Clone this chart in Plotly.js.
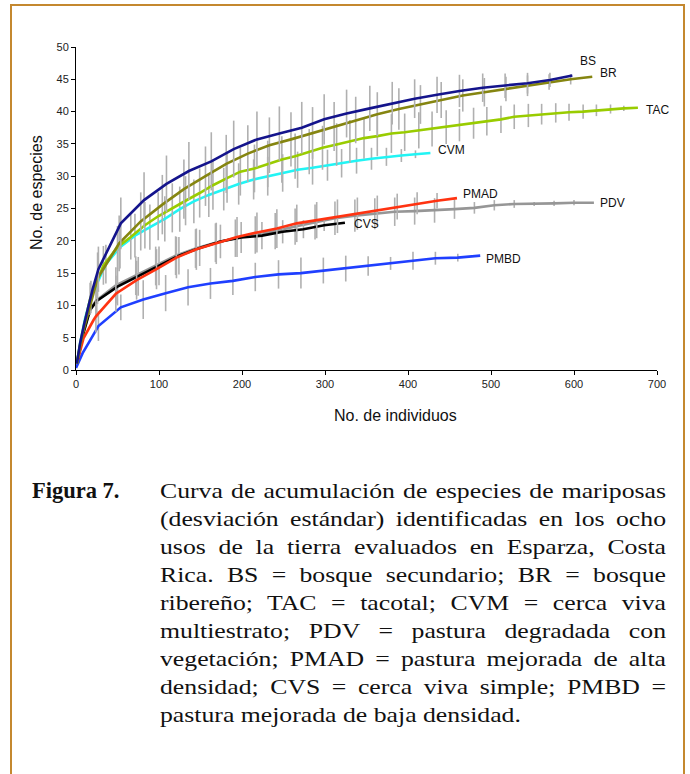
<!DOCTYPE html>
<html>
<head>
<meta charset="utf-8">
<script src="https://cdn.plot.ly/plotly-3.0.1.min.js"></script>
<style>
  html, body { margin: 0; padding: 0; background: #fff; }
  body { width: 690px; height: 774px; position: relative; overflow: hidden; }
  #frame { position: absolute; left: 10px; top: 4px; width: 671px; height: 800px; border: 2px solid #c4882f; }
  #chart { position: absolute; left: 0; top: 0; width: 690px; height: 450px; }
  #figlabel { position: absolute; left: 32px; top: 477px; font-family: 'Liberation Serif', 'Times New Roman', serif; font-weight: bold; font-size: 22.5px; line-height: 28px; color: #111; white-space: nowrap; }
  #cap { position: absolute; left: 160px; top: 477px; width: 432.5px; transform: scaleX(1.17); transform-origin: 0 0; font-family: 'Liberation Serif', 'Times New Roman', serif; font-size: 22px; line-height: 28px; color: #111; }
  #cap .j { text-align: justify; text-align-last: justify; }
  #cap .l { text-align: left; }
</style>
</head>
<body>
<div id="frame"></div>
<div id="chart"></div>
<div id="figlabel">Figura 7.</div>
<div id="cap">
  <div class="j">Curva de acumulación de especies de mariposas</div>
  <div class="j">(desviación estándar) identificadas en los ocho</div>
  <div class="j">usos de la tierra evaluados en Esparza, Costa</div>
  <div class="j">Rica. BS = bosque secundario; BR = bosque</div>
  <div class="j">ribereño; TAC = tacotal; CVM = cerca viva</div>
  <div class="j">multiestrato; PDV = pastura degradada con</div>
  <div class="j">vegetación; PMAD = pastura mejorada de alta</div>
  <div class="j">densidad; CVS = cerca viva simple; PMBD =</div>
  <div class="l">pastura mejorada de baja densidad.</div>
</div>
<script>
// ---- Data ----
const seriesNames = ['BS', 'BR', 'TAC', 'CVM', 'PDV', 'PMAD', 'CVS', 'PMBD'];

const bsX  = [1, 5, 10, 15, 20, 27, 54, 82, 109, 136, 163, 190, 218, 245, 272, 299, 326, 354, 381, 408, 435, 462, 490, 517, 544, 571, 598];
const bsY  = [1, 4.2, 7.2, 9.8, 12.5, 15.6, 22.7, 26.3, 28.8, 30.8, 32.3, 34.2, 35.7, 36.6, 37.5, 38.8, 39.7, 40.5, 41.3, 42.0, 42.6, 43.2, 43.7, 44.0, 44.4, 44.9, 45.6];
const bsSD = [0, 0, 0, 0, 0, 3.5, 4.0, 4.3, 4.4, 4.5, 4.5, 4.4, 4.3, 4.2, 4.0, 3.9, 3.7, 3.5, 3.3, 3.0, 2.8, 2.5, 2.2, 1.9, 1.6, 1.1, 0];

const brX  = [1, 5, 10, 15, 20, 26, 52, 78, 104, 130, 156, 181, 207, 233, 259, 285, 311, 337, 363, 389, 415, 440, 466, 492, 518, 544, 570, 596, 622];
const brY  = [1, 3.8, 6.6, 9.0, 11.3, 14.2, 19.6, 23.0, 25.6, 28.0, 30.0, 31.9, 33.5, 34.8, 35.7, 36.7, 37.7, 38.7, 39.6, 40.4, 41.1, 41.8, 42.5, 43.0, 43.5, 44.0, 44.6, 45.0, 45.4];
const brSD = [0, 0, 0, 0, 0, 4.0, 4.3, 4.5, 4.6, 4.6, 4.6, 4.5, 4.4, 4.3, 4.2, 4.0, 3.8, 3.6, 3.4, 3.2, 3.0, 2.8, 2.5, 2.2, 1.9, 1.6, 1.2, 0.8, 0];

const tacX  = [1, 5, 10, 17, 33, 50, 66, 83, 99, 116, 132, 149, 165, 182, 198, 215, 231, 248, 264, 281, 297, 314, 330, 347, 363, 380, 396, 413, 429, 446, 462, 479, 495, 512, 528, 545, 561, 578, 594, 611, 627, 644, 660, 677];
const tacY  = [1, 4.0, 7.0, 11.0, 16.2, 19.0, 20.6, 22.4, 23.8, 25.1, 26.2, 27.4, 28.6, 29.7, 30.7, 31.2, 31.9, 32.6, 33.1, 33.8, 34.4, 34.9, 35.4, 35.9, 36.2, 36.6, 36.8, 37.1, 37.3, 37.6, 37.9, 38.2, 38.5, 38.8, 39.2, 39.4, 39.6, 39.8, 39.9, 40.0, 40.2, 40.4, 40.5, 40.6];
const tacSD = [0, 0, 0, 2.5, 3.0, 3.3, 3.5, 3.6, 3.7, 3.8, 3.8, 3.8, 3.8, 3.8, 3.7, 3.7, 3.6, 3.6, 3.5, 3.5, 3.4, 3.3, 3.3, 3.2, 3.1, 3.0, 2.9, 2.8, 2.7, 2.6, 2.5, 2.4, 2.2, 2.1, 1.9, 1.8, 1.6, 1.5, 1.3, 1.1, 0.9, 0.7, 0.4, 0];

const cvmX  = [1, 5, 11, 18, 36, 53, 71, 89, 107, 125, 142, 160, 178, 196, 214, 231, 249, 267, 285, 303, 320, 338, 356, 374, 392, 409, 427];
const cvmY  = [1, 4.2, 8.0, 11.3, 16.4, 19.0, 20.8, 22.1, 23.4, 24.9, 26.1, 27.1, 28.0, 28.8, 29.5, 30.0, 30.5, 31.0, 31.3, 31.7, 32.0, 32.4, 32.7, 33.0, 33.2, 33.4, 33.6];
const cvmSD = [0, 0, 0, 2.5, 3.0, 3.3, 3.4, 3.5, 3.5, 3.5, 3.4, 3.4, 3.3, 3.2, 3.1, 3.0, 2.9, 2.8, 2.6, 2.4, 2.2, 2.0, 1.7, 1.4, 1.0, 0.6, 0];

const pdvX  = [1, 9, 17, 24, 48, 72, 96, 120, 144, 168, 192, 216, 240, 264, 288, 312, 336, 360, 384, 408, 432, 456, 480, 504, 528, 552, 576, 600, 624];
const pdvY  = [1, 5.9, 9.4, 10.7, 13.1, 14.6, 16.1, 17.7, 18.8, 19.7, 20.4, 20.9, 21.5, 22.2, 22.9, 23.5, 23.9, 24.2, 24.5, 24.6, 24.7, 24.9, 25.1, 25.5, 25.7, 25.7, 25.8, 25.9, 25.9];
const pdvSD = [0, 0, 0, 2.5, 2.8, 3.0, 3.0, 3.0, 3.0, 3.0, 2.9, 2.9, 2.8, 2.8, 2.7, 2.6, 2.5, 2.4, 2.2, 2.1, 1.9, 1.5, 0.9, 0.8, 0.6, 0.3, 0.4, 0.4, 0];

const pmadX  = [1, 9, 21, 24, 48, 73, 97, 121, 145, 169, 194, 218, 242, 266, 290, 315, 339, 363, 387, 411, 435, 459];
const pmadY  = [1, 4.9, 7.7, 8.3, 11.8, 13.9, 15.6, 17.4, 18.7, 19.6, 20.6, 21.3, 21.9, 22.7, 23.2, 23.8, 24.2, 24.7, 25.3, 25.8, 26.2, 26.6];
const pmadSD = [0, 0, 0, 2.5, 2.8, 3.0, 3.1, 3.2, 3.2, 3.2, 3.1, 3.1, 3.0, 2.9, 2.8, 2.6, 2.5, 2.3, 2.0, 1.7, 1.2, 0];

const cvsX  = [1, 9, 17, 25, 50, 75, 100, 124, 149, 174, 199, 224, 249, 274, 299, 324];
const cvsY  = [1, 5.7, 9.3, 10.7, 12.9, 14.5, 16.1, 17.7, 18.9, 19.9, 20.5, 20.8, 21.4, 21.8, 22.4, 22.8];
const cvsSD = [0, 0, 0, 2.6, 2.9, 3.0, 3.0, 2.9, 2.8, 2.6, 2.4, 2.1, 1.8, 1.4, 0.9, 0];

const pmbdX  = [0, 8, 17, 27, 54, 81, 108, 135, 162, 189, 216, 244, 271, 298, 325, 352, 379, 406, 433, 460, 487];
const pmbdY  = [0.3, 2.6, 4.6, 6.8, 9.7, 10.9, 11.9, 12.8, 13.4, 13.8, 14.4, 14.8, 15.0, 15.4, 15.7, 16.1, 16.5, 16.9, 17.3, 17.4, 17.7];
const pmbdSD = [0, 0, 0, 2.3, 2.0, 3.0, 2.8, 2.8, 2.4, 2.2, 2.2, 2.2, 2.4, 2.0, 2.0, 1.5, 1.0, 1.4, 1.0, 0.6, 0];

// ---- Styling ----
const seriesColors = ['#14148c', '#858510', '#99cc00', '#22f4f4', '#969696', '#ff3311', '#000000', '#1f3fff'];
const seriesData = [
  [bsX, bsY, bsSD], [brX, brY, brSD], [tacX, tacY, tacSD], [cvmX, cvmY, cvmSD],
  [pdvX, pdvY, pdvSD], [pmadX, pmadY, pmadSD], [cvsX, cvsY, cvsSD], [pmbdX, pmbdY, pmbdSD]
];
const labelPos = {
  BS: [607, 47.9], BR: [631, 45.95], TAC: [687, 40.3], CVM: [436, 34.1],
  PDV: [631, 25.9], PMAD: [466, 27.25], CVS: [335, 22.6], PMBD: [493.5, 17.2]
};

// draw order: lower curves first so upper ones sit on top similar to reference
const order = [4, 7, 6, 5, 3, 2, 1, 0];
const traces = order.map(i => ({
  type: 'scatter',
  mode: 'lines',
  name: seriesNames[i],
  x: seriesData[i][0],
  y: seriesData[i][1],
  line: { color: seriesColors[i], width: 2.6 },
  error_y: { type: 'data', array: seriesData[i][2], visible: true, color: '#b0b0b0', thickness: 1.6, width: 0 },
  hoverinfo: 'skip'
}));

const tickFont = { family: 'Liberation Sans, Arial, sans-serif', size: 11, color: '#222' };
const annotations = seriesNames.map(n => ({
  x: labelPos[n][0], y: labelPos[n][1], xref: 'x', yref: 'y',
  text: n, showarrow: false, xanchor: 'left', yanchor: 'middle',
  borderpad: 0, borderwidth: 0,
  font: { family: 'Liberation Sans, Arial, sans-serif', size: 12, color: '#111' }
}));
annotations.push({
  x: -0.067, y: 0.548, xref: 'paper', yref: 'paper', text: 'No. de especies',
  textangle: -90, showarrow: false, xanchor: 'center', yanchor: 'middle',
  font: { family: 'Liberation Sans, Arial, sans-serif', size: 16, color: '#111' }
});
annotations.push({
  x: 0.55, y: -0.1424, xref: 'paper', yref: 'paper', text: 'No. de individuos',
  showarrow: false, xanchor: 'center', yanchor: 'middle',
  font: { family: 'Liberation Sans, Arial, sans-serif', size: 16, color: '#111' }
});

const layout = {
  width: 690, height: 450,
  margin: { l: 76, r: 33, t: 47, b: 80 },
  paper_bgcolor: 'rgba(0,0,0,0)', plot_bgcolor: '#fff',
  showlegend: false,
  xaxis: {
    range: [0, 700], dtick: 100, tick0: 0, ticks: 'outside', ticklen: 4, tickcolor: '#000',
    showline: true, linecolor: '#000', linewidth: 1, showgrid: false, zeroline: false,
    tickfont: tickFont, fixedrange: true
  },
  yaxis: {
    range: [0, 50], dtick: 5, tick0: 0, ticks: 'outside', ticklen: 4, tickcolor: '#000',
    showline: true, linecolor: '#000', linewidth: 1, showgrid: false, zeroline: false,
    tickfont: tickFont, fixedrange: true
  },
  annotations: annotations
};

Plotly.newPlot('chart', traces, layout, { staticPlot: true, displayModeBar: false });
</script>
</body>
</html>
